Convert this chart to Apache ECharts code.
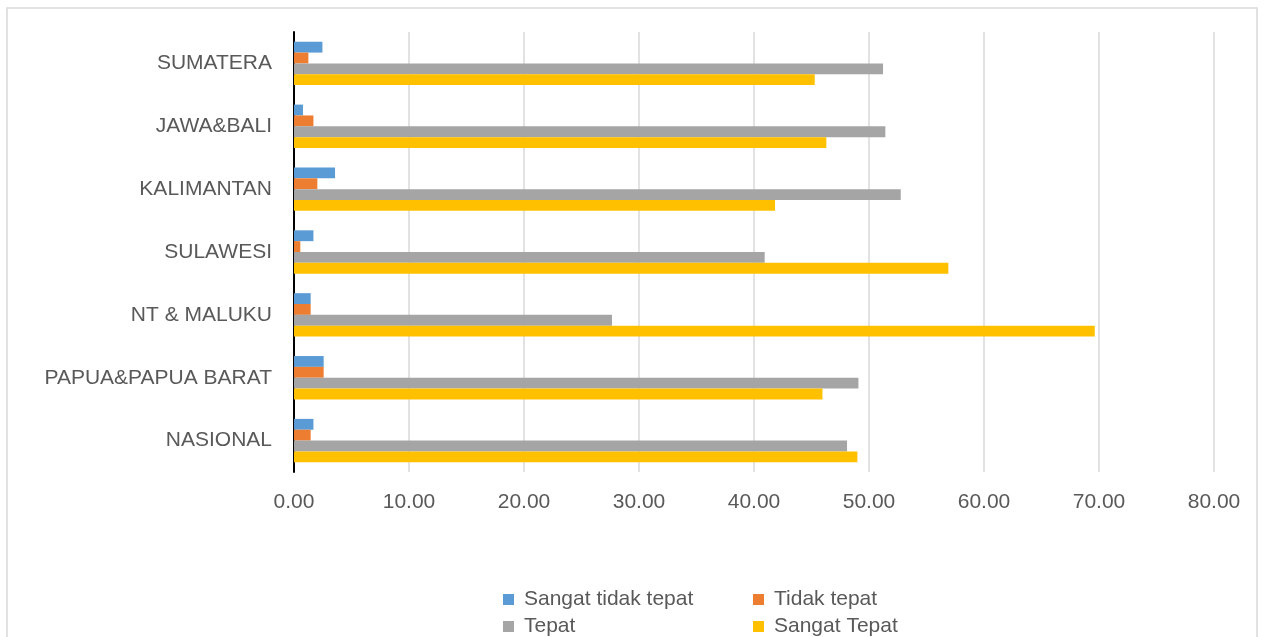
<!DOCTYPE html>
<html>
<head>
<meta charset="utf-8">
<script src="https://cdn.jsdelivr.net/npm/echarts@6/dist/echarts.min.js"></script>
<style>
html,body{margin:0;padding:0;background:#fff;}
#chart{width:1265px;height:637px;}
</style>
</head>
<body>
<div id="chart"></div>
<script>
const categories = ['SUMATERA', 'JAWA&BALI', 'KALIMANTAN', 'SULAWESI', 'NT & MALUKU', 'PAPUA&PAPUA BARAT', 'NASIONAL'];
const sangatTidakTepat = [2.47, 0.78, 3.57, 1.69, 1.45, 2.58, 1.69];
const tidakTepat = [1.25, 1.69, 2.03, 0.55, 1.45, 2.58, 1.45];
const tepat = [51.22, 51.42, 52.76, 40.93, 27.65, 49.08, 48.09];
const sangatTepat = [45.28, 46.29, 41.83, 56.90, 69.63, 45.95, 48.99];
const seriesNames = ['Sangat tidak tepat', 'Tidak tepat', 'Tepat', 'Sangat Tepat'];
const seriesColors = ['#5b9bd5', '#ed7d31', '#a5a5a5', '#ffc000'];
const seriesData = [sangatTidakTepat, tidakTepat, tepat, sangatTepat];

const font = 'Liberation Sans, Arial, sans-serif';
const chart = echarts.init(document.getElementById('chart'), null, {renderer: 'canvas'});

const legendPos = [
  {left: 503, top: 589},
  {left: 753, top: 589},
  {left: 503, top: 616},
  {left: 753, top: 616}
];

const option = {
  animation: false,
  backgroundColor: '#ffffff',
  graphic: [{
    type: 'rect',
    shape: {x: 7, y: 8, width: 1250, height: 660},
    style: {fill: 'none', stroke: '#d9d9d9', lineWidth: 1.5},
    silent: true
  }],
  grid: {left: 294, right: 51, top: 32, bottom: 165, containLabel: false},
  legend: seriesNames.map((n, i) => ({
    data: [n],
    left: legendPos[i].left,
    top: legendPos[i].top,
    itemWidth: 11,
    itemHeight: 11,
    itemGap: 0,
    icon: 'rect',
    textStyle: {fontFamily: font, fontSize: 21, color: '#595959', padding: [0, 0, 0, 5]},
    padding: 0
  })),
  xAxis: {
    type: 'value',
    min: 0,
    max: 80,
    interval: 10,
    axisLine: {show: false},
    axisTick: {show: false},
    splitLine: {show: true, lineStyle: {color: '#d9d9d9', width: 1.5}},
    axisLabel: {
      fontFamily: font, fontSize: 21, color: '#595959', margin: 20,
      formatter: v => v.toFixed(2)
    }
  },
  yAxis: {
    type: 'category',
    data: categories,
    inverse: true,
    axisLine: {show: true, lineStyle: {color: '#000000', width: 2}},
    axisTick: {show: false},
    axisLabel: {fontFamily: font, fontSize: 21, color: '#595959', margin: 22}
  },
  series: seriesNames.map((n, i) => ({
    name: n,
    type: 'bar',
    data: seriesData[i],
    itemStyle: {color: seriesColors[i]},
    barGap: '0%',
    barCategoryGap: '31%'
  }))
};
chart.setOption(option);
</script>
</body>
</html>
